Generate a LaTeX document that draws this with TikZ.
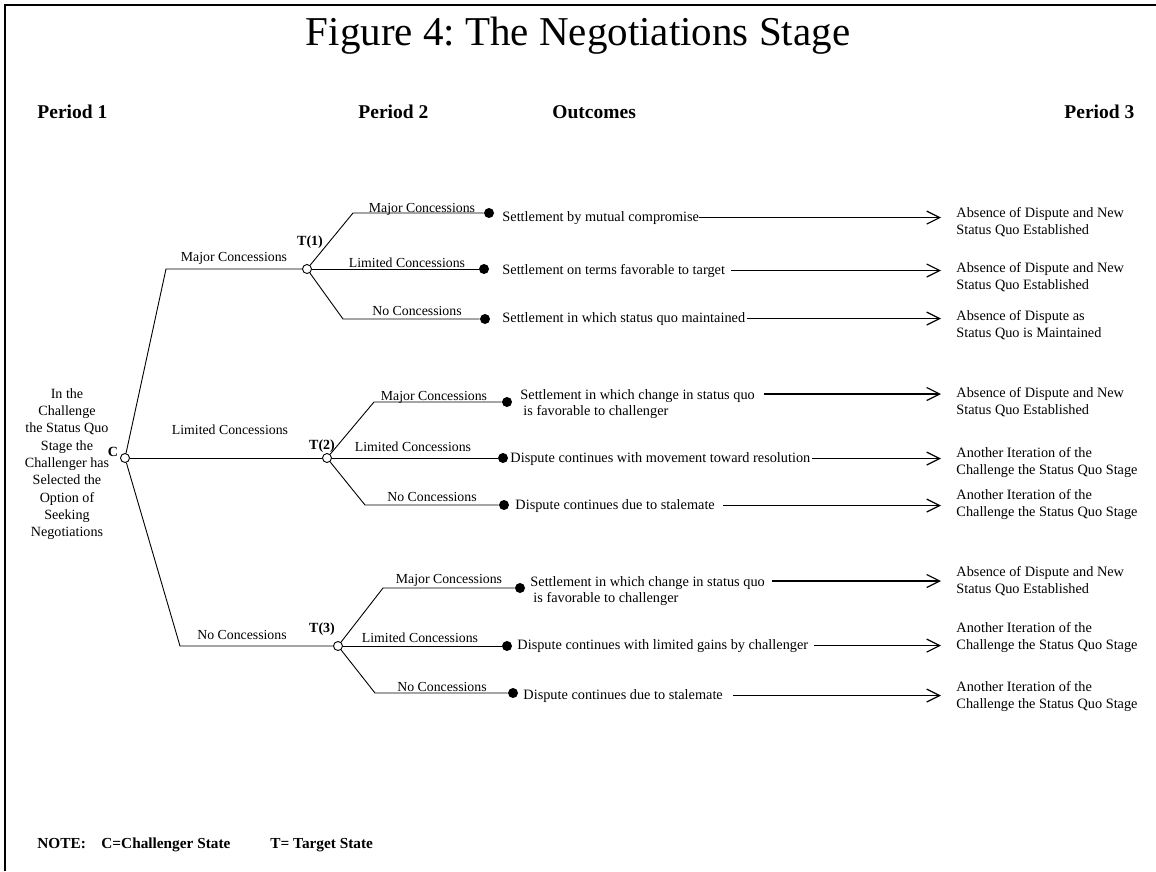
\documentclass[tikz,border=0pt]{standalone}
\usepackage{fontspec}
\setmainfont{Liberation Serif}
\usetikzlibrary{arrows.meta}
\usetikzlibrary{positioning}
\frenchspacing
\begin{document}
\begin{tikzpicture}[x=1pt,y=-1pt,line width=0.9pt,
  choice/.style={circle,draw,fill=white,inner sep=0pt,minimum size=9pt},
  leaf/.style={circle,fill=black,inner sep=0pt,minimum size=10pt},
  lbl/.style={font=\fontsize{13.8}{16}\selectfont,inner sep=0pt,anchor=base},
  outc/.style={font=\fontsize{14.3}{16.5}\selectfont,inner sep=0pt,anchor=base west},
  outctwo/.style={font=\fontsize{14.3}{16.5}\selectfont,inner sep=0pt,align=left,anchor=north west},
  res/.style={font=\fontsize{14.3}{16.5}\selectfont,inner sep=0pt,align=left,anchor=north west},
  head/.style={font=\fontsize{19.5}{22}\selectfont\bfseries,inner sep=0pt,anchor=west},
  note/.style={font=\fontsize{15.3}{18}\selectfont\bfseries,inner sep=0pt,anchor=base west},
  tname/.style={font=\fontsize{14}{16}\selectfont\bfseries,inner sep=0pt},
  arr/.style={line width=1.2pt,-{Straight Barb[length=13pt,width=13pt]}}]
\useasboundingbox (0,0) rectangle (1156,871);
\draw[line width=2pt] (5,871) -- (5,5) -- (1160,5);

\node[font=\fontsize{41}{46}\selectfont,inner sep=0pt] (title) at (578,36) {Figure 4: The Negotiations Stage};
\node[head] (per1) at (37,112) {Period 1};
\node[head] (per2) at (358,112) {Period 2};
\node[head] (outc) at (552,112) {Outcomes};
\node[head] (per3) at (1064,112) {Period 3};

\node[font=\fontsize{14.1}{17.3}\selectfont,inner sep=0pt,align=center,anchor=north] (intro) at (67,388)
  {In the\\Challenge\\the Status Quo\\Stage the\\Challenger has\\Selected the\\Option of\\Seeking\\Negotiations};

\node[choice] (C) at (125,458) {};
\node[tname,left=1.5pt of C,yshift=6pt] (Clbl) {C};

\coordinate (c1) at (166,269);
\node[choice] (T1) at (307,269) {};
\node[choice] (T2) at (327,458) {};
\coordinate (c3) at (180,646);
\node[choice] (T3) at (338,646) {};
\draw (C) -- (c1) -- (T1);
\draw (C) -- (T2);
\draw (C) -- (c3) -- (T3);
\node[lbl] at (234,261) {Major Concessions};
\node[lbl] at (230,434) {Limited Concessions};
\node[lbl] at (242,639) {No Concessions};
\node[tname,above=15pt of T1,xshift=3pt] (T1lbl) {T(1)};
\node[tname,above=0pt of T2,xshift=-5pt] (T2lbl) {T(2)};
\node[tname,above=5pt of T3,xshift=-16pt] (T3lbl) {T(3)};

\coordinate (u1) at (353,213);
\node[leaf] (d11) at (489,213) {};
\node[leaf] (d12) at (484,269) {};
\coordinate (l1) at (343,319);
\node[leaf] (d13) at (485,319) {};
\draw (T1) -- (u1) -- (d11);
\draw (T1) -- (d12);
\draw (T1) -- (l1) -- (d13);
\node[lbl] at (422,212) {Major Concessions};
\node[lbl] at (407,267) {Limited Concessions};
\node[lbl] at (417,315) {No Concessions};

\coordinate (u2) at (374,402);
\node[leaf] (d21) at (507,402) {};
\node[leaf] (d22) at (503,458) {};
\coordinate (l2) at (365,505);
\node[leaf] (d23) at (504,505) {};
\draw (T2) -- (u2) -- (d21);
\draw (T2) -- (d22);
\draw (T2) -- (l2) -- (d23);
\node[lbl] at (434,400) {Major Concessions};
\node[lbl] at (413,451) {Limited Concessions};
\node[lbl] at (432,501) {No Concessions};

\coordinate (u3) at (383,588);
\node[leaf] (d31) at (520,588) {};
\node[leaf] (d32) at (507,646) {};
\coordinate (l3) at (375,693);
\node[leaf] (d33) at (513,693) {};
\draw (T3) -- (u3) -- (d31);
\draw (T3) -- (d32);
\draw (T3) -- (l3) -- (d33);
\node[lbl] at (449,583) {Major Concessions};
\node[lbl] at (420,642) {Limited Concessions};
\node[lbl] at (442,691) {No Concessions};

\node[outc] (o11) at (502,221) {Settlement by mutual compromise};
\node[outc] (o12) at (502,274) {Settlement on terms favorable to target};
\node[outc] (o13) at (502,322) {Settlement in which status quo maintained};
\node[outctwo] (o21) at (520,389) {Settlement in which change in status quo\\\hspace*{3pt}is favorable to challenger};
\node[outc] (o22) at (510,462) {Dispute continues with movement toward resolution};
\node[outc] (o23) at (515,509) {Dispute continues due to stalemate};
\node[outctwo] (o31) at (530,576) {Settlement in which change in status quo\\\hspace*{3pt}is favorable to challenger};
\node[outc] (o32) at (517,649) {Dispute continues with limited gains by challenger};
\node[outc] (o33) at (523,699) {Dispute continues due to stalemate};

\node[res] (r11) at (956,207) {Absence of Dispute and New\\Status Quo Established};
\node[res] (r12) at (956,262) {Absence of Dispute and New\\Status Quo Established};
\node[res] (r13) at (956,310) {Absence of Dispute as\\Status Quo is Maintained};
\node[res] (r21) at (956,387) {Absence of Dispute and New\\Status Quo Established};
\node[res] (r22) at (956,447) {Another Iteration of the\\Challenge the Status Quo Stage};
\node[res] (r23) at (956,489) {Another Iteration of the\\Challenge the Status Quo Stage};
\node[res] (r31) at (956,566) {Absence of Dispute and New\\Status Quo Established};
\node[res] (r32) at (956,622) {Another Iteration of the\\Challenge the Status Quo Stage};
\node[res] (r33) at (956,681) {Another Iteration of the\\Challenge the Status Quo Stage};

\coordinate (tip) at (941,0);
\draw[arr] (o11.east) -- (tip |- o11.east);
\draw[arr] ([xshift=6pt]o12.east) -- (tip |- o12.east);
\draw[arr] ([xshift=1pt]o13.east) -- (tip |- o13.east);
\draw[arr] ([xshift=9pt,yshift=-5pt]o21.north east) coordinate (s21) -- (tip |- s21);
\draw[arr] ([xshift=1pt]o22.east) -- (tip |- o22.east);
\draw[arr] ([xshift=8pt]o23.east) -- (tip |- o23.east);
\draw[arr] ([xshift=7pt,yshift=-5pt]o31.north east) coordinate (s31) -- (tip |- s31);
\draw[arr] ([xshift=5pt]o32.east) -- (tip |- o32.east);
\draw[arr] ([xshift=10pt]o33.east) -- (tip |- o33.east);

\node[note] (nt) at (37,848) {NOTE:};
\node[note] (nc) at (101,848) {C=Challenger State};
\node[note] (nts) at (270,848) {T= Target State};
\end{tikzpicture}
\end{document}
